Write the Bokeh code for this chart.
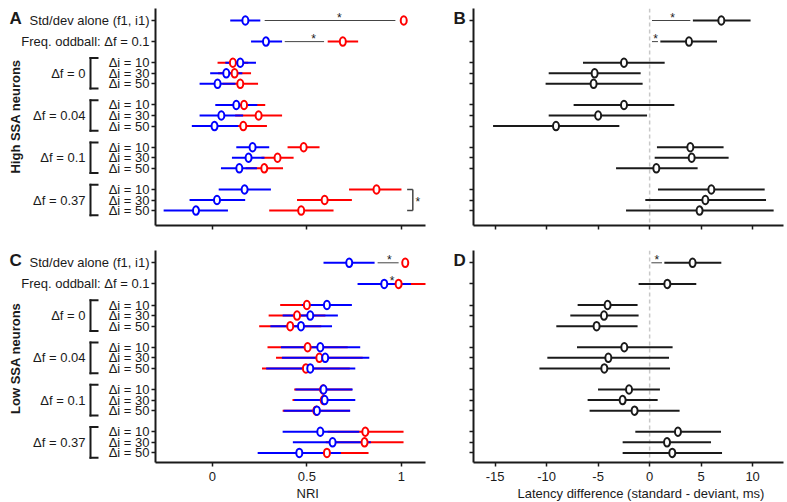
import math
from bokeh.plotting import figure
from bokeh.models import Range1d, FixedTicker, Span, Title, NumeralTickFormatter
from bokeh.layouts import column, row
from bokeh.core.properties import value
from bokeh.embed import file_html
from bokeh.resources import INLINE

# ------------------------------------------------------------------ data
top_labels = ["Std/dev alone (f1, i1)", "Freq. oddball: \u0394f = 0.1"]
group_labels = ["\u0394f = 0", "\u0394f = 0.04", "\u0394f = 0.1", "\u0394f = 0.37"]
di_labels = ["\u0394i = 10", "\u0394i = 30", "\u0394i = 50"]
panel_titles = ["High SSA neurons", "Low  SSA neurons"]
panel_letters = ["A", "B", "C", "D"]
nri_ticks = [0, 0.5, 1]
lat_ticks = [-15, -10, -5, 0, 5, 10]
nri_title = "NRI"
lat_title = "Latency difference (standard - deviant, ms)"

# Panel A: high SSA, NRI (blue = standard, red = deviant)
A_blue = [0.175, 0.284, 0.148, 0.074, 0.028, 0.127, 0.048, 0.012, 0.213, 0.192, 0.143, 0.171, 0.025, -0.086]
A_blue_lo = [0.095, 0.205, 0.069, -0.011, -0.067, 0.016, -0.067, -0.108, 0.127, 0.104, 0.046, 0.034, -0.120, -0.257]
A_blue_hi = [0.254, 0.369, 0.231, 0.159, 0.123, 0.238, 0.163, 0.137, 0.301, 0.276, 0.236, 0.310, 0.174, 0.083]
A_red = [1.012, 0.690, 0.109, 0.118, 0.148, 0.168, 0.245, 0.164, 0.483, 0.345, 0.275, 0.868, 0.594, 0.470]
A_red_lo = [1.012, 0.610, 0.028, 0.031, 0.054, 0.051, 0.121, 0.039, 0.398, 0.260, 0.176, 0.723, 0.448, 0.301]
A_red_hi = [1.012, 0.771, 0.190, 0.205, 0.242, 0.280, 0.369, 0.289, 0.567, 0.430, 0.374, 1.000, 0.738, 0.641]

# Panel C: low SSA, NRI
C_blue = [0.724, 0.909, 0.606, 0.518, 0.469, 0.571, 0.597, 0.518, 0.588, 0.594, 0.553, 0.571, 0.636, 0.460]
C_blue_lo = [0.588, 0.768, 0.474, 0.372, 0.307, 0.363, 0.368, 0.285, 0.439, 0.433, 0.377, 0.372, 0.426, 0.240]
C_blue_hi = [0.858, 1.050, 0.738, 0.664, 0.633, 0.782, 0.830, 0.756, 0.742, 0.756, 0.729, 0.777, 0.838, 0.680]
C_red = [1.020, 0.985, 0.500, 0.448, 0.412, 0.504, 0.566, 0.495, 0.586, 0.589, 0.550, 0.809, 0.805, 0.606]
C_red_lo = [1.020, 0.880, 0.359, 0.298, 0.248, 0.292, 0.337, 0.263, 0.433, 0.424, 0.372, 0.610, 0.600, 0.386]
C_red_hi = [1.020, 1.130, 0.641, 0.598, 0.576, 0.716, 0.795, 0.727, 0.739, 0.754, 0.728, 1.011, 1.011, 0.826]

# Panel B: high SSA, latency difference (ms)
B_mean = [6.96, 3.82, -2.49, -5.34, -5.44, -2.49, -5.0, -9.09, 3.95, 4.08, 0.65, 5.99, 5.41, 4.85]
B_lo = [4.2, 1.04, -6.47, -9.8, -10.1, -7.38, -9.8, -15.2, 0.71, 0.49, -3.26, 0.81, -0.42, -2.29]
B_hi = [9.8, 6.54, 1.46, -0.87, -0.68, 2.4, -0.25, -2.94, 7.18, 7.67, 4.66, 11.17, 11.3, 12.04]

# Panel D: low SSA, latency difference (ms)
D_mean = [4.17, 1.72, -4.08, -4.43, -5.15, -2.46, -4.01, -4.4, -2.0, -2.62, -1.46, 2.75, 1.69, 2.2]
D_lo = [1.43, -1.07, -6.99, -7.7, -9.06, -7.05, -9.93, -10.7, -5.01, -6.02, -5.83, -1.39, -2.62, -2.62]
D_hi = [6.96, 4.53, -1.17, -1.07, -1.17, 2.23, 1.88, 1.98, 1.0, 0.78, 2.91, 6.93, 5.96, 7.03]

# significance marks: (row index, line start, line end, star x)
A_sig = [(0, 0.277, 0.968, 0.672), (1, 0.383, 0.591, 0.536)]
C_sig = [(0, 0.874, 0.985, 0.936), (1, None, None, 0.950)]
B_sig = [(0, 0.23, 3.95, 2.24), (1, 0.23, 0.81, 0.58)]
D_sig = [(0, 0.17, 1.2, 0.71)]
A_group_sig = (3, 1.03, 1.06, 1.086)   # group index, bracket tick x, bracket x, star x

# ------------------------------------------------------------------ layout helpers
FONT = "Liberation Sans"
INK = "#1a1a1a"
BLUE = "#0000ff"
RED = "#ff0000"

rows = [0, 2]
row_labels = list(top_labels)
group_rows = []
for g in range(len(group_labels)):
    rr = [4 + 4 * g + k for k in range(len(di_labels))]
    group_rows.append(rr)
    rows += rr
    row_labels += di_labels

ROW_PX = 10.56          # pixels per row step
NRI_PX = 189.2          # pixels per NRI unit
LAT_PX = 10.3           # pixels per ms
NRI_R = (-0.30, -0.30 + 270 / NRI_PX)
LAT_R = (-17.1, -17.1 + 310 / LAT_PX)

TOP_H, BOT_H = 240, 262
ROW0 = [20.0, 262.3 - TOP_H]     # first row position inside each band (px from band top)
FRAME_TOP = [8, 250 - TOP_H]
FRAME_BOT = [225, 462 - TOP_H]

W_LAB, W_NRI, W_GAP = 150, 298, 18
W_LAT = 787 - W_LAB - W_NRI - W_GAP


def band_yrange(band):
    top = (FRAME_TOP[band] - ROW0[band]) / ROW_PX
    return (top + (FRAME_BOT[band] - FRAME_TOP[band]) / ROW_PX, top)


def base_fig(band, w, xr, bl, br, axes=True):
    h = TOP_H if band == 0 else BOT_H
    kw = dict(width=w, height=h, x_range=Range1d(*xr), y_range=Range1d(*band_yrange(band)),
              output_backend="svg", toolbar_location=None,
              min_border_left=bl, min_border_right=br,
              min_border_top=FRAME_TOP[band], min_border_bottom=h - FRAME_BOT[band])
    if not axes:
        kw.update(x_axis_type=None, y_axis_type=None)
    p = figure(**kw)
    p.outline_line_color = None
    p.grid.visible = False
    return p


def make_panel(band, xr, w, bl, br, xticks, show_x):
    p = base_fig(band, w, xr, bl, br)
    for ax in (p.xaxis[0], p.yaxis[0]):
        ax.axis_line_width = 2
        ax.axis_line_color = INK
        ax.major_tick_line_width = 1.5
        ax.major_tick_line_color = INK
        ax.major_tick_in = 0
        ax.major_tick_out = 4
        ax.minor_tick_line_color = None
        ax.major_label_text_font = FONT
        ax.major_label_text_font_size = "13px"
        ax.major_label_text_color = INK
    p.yaxis.ticker = FixedTicker(ticks=rows)
    p.yaxis.major_label_overrides = {r: "" for r in rows}
    p.yaxis.major_label_standoff = 0
    p.xaxis.ticker = FixedTicker(ticks=xticks)
    if show_x:
        p.xaxis.formatter = NumeralTickFormatter(format="0.[0]")
        p.xaxis.major_label_standoff = 5
    else:
        p.xaxis.major_label_overrides = {t: "" for t in xticks}
        p.xaxis.major_label_standoff = 0
    return p


def star(p, xs, ys):
    p.text(x=xs, y=ys, text=["*"] * len(xs), text_font=value(FONT),
           text_font_size="12px", text_align="center", text_baseline="middle",
           text_color=INK)


def add_sig(p, sig):
    for (ri, x0, x1, sx) in sig:
        y = rows[ri]
        if x0 is not None:
            p.segment(x0=[x0], y0=[y], x1=[x1], y1=[y], line_color="#444444", line_width=1)
        star(p, [sx], [y - 0.28])


def marks(p, m, color):
    p.ellipse(x=m, y=rows, width=6, height=8.5, width_units="screen", height_units="screen",
              fill_color="white", line_color=color, line_width=2)


def nri_panel(p, b, blo, bhi, r, rlo, rhi):
    p.segment(x0=rlo, y0=rows, x1=rhi, y1=rows, line_color=RED, line_width=2)
    p.segment(x0=blo, y0=rows, x1=bhi, y1=rows, line_color=BLUE, line_width=2)
    marks(p, r, RED)
    marks(p, b, BLUE)


def lat_panel(p, m, lo, hi):
    p.add_layout(Span(location=0, dimension="height", line_color="#c8c8c8",
                      line_dash="4 3", line_width=1.5, level="underlay"))
    p.segment(x0=lo, y0=rows, x1=hi, y1=rows, line_color=INK, line_width=2)
    marks(p, m, INK)


def letter_text(p, band, x, letter):
    p.text(x=[x], y=[band_yrange(band)[1]], text=[letter],
           text_font=value(FONT), text_font_size="17px", text_font_style="bold",
           text_align="left", text_baseline="top", text_color=INK)


def label_strip(band, title, title_px, letter):
    """Left-hand strip (pixel x units) holding row labels, group labels, brackets."""
    p = base_fig(band, W_LAB, (0, W_LAB), 0, 0, axes=False)
    n = len(rows)
    p.text(x=[W_LAB - 1] * n, y=rows, text=row_labels, text_font=value(FONT),
           text_font_size="13px", text_align="right", text_baseline="middle",
           text_color=INK)
    mids = [rr[1] for rr in group_rows]
    p.text(x=[85] * len(mids), y=mids, text=group_labels, text_font=value(FONT),
           text_font_size="13px", text_align="right", text_baseline="middle",
           text_color=INK)
    xs0, ys0, xs1, ys1 = [], [], [], []
    for rr in group_rows:
        ya, yb = rr[0] - 0.45, rr[-1] + 0.45
        xs0 += [90, 90, 90]
        ys0 += [ya, ya, yb]
        xs1 += [90, 97, 97]
        ys1 += [yb, ya, yb]
    p.segment(x0=xs0, y0=ys0, x1=xs1, y1=ys1, line_color=INK, line_width=2, line_cap="square")
    p.text(x=[15], y=[(title_px - ROW0[band]) / ROW_PX], text=[title], angle=math.pi / 2,
           text_font=value(FONT), text_font_size="13px", text_font_style="bold",
           text_align="center", text_baseline="middle", text_color=INK)
    letter_text(p, band, 9, letter)
    return p


def letter_strip(band, letter):
    p = base_fig(band, W_GAP, (0, W_GAP), 0, 0, axes=False)
    letter_text(p, band, 5, letter)
    return p


def bottom_title(p, text, offset):
    p.add_layout(Title(text=text, align="left", offset=offset, standoff=0,
                       text_font=FONT, text_font_size="13px", text_font_style="normal",
                       text_color=INK), "below")


# ------------------------------------------------------------------ panels
LA = label_strip(0, panel_titles[0], 116, panel_letters[0])
pA = make_panel(0, NRI_R, W_NRI, 5, 23, nri_ticks, False)
nri_panel(pA, A_blue, A_blue_lo, A_blue_hi, A_red, A_red_lo, A_red_hi)
add_sig(pA, A_sig)
gi, bx_t, bx, sx = A_group_sig
g0, g1 = group_rows[gi][0], group_rows[gi][-1]
pA.segment(x0=[bx, bx_t, bx_t], y0=[g0, g0, g1], x1=[bx, bx, bx], y1=[g1, g0, g1],
           line_color="#444444", line_width=1.5)
star(pA, [sx], [group_rows[gi][1] + 0.2])

LB = letter_strip(0, panel_letters[1])
pB = make_panel(0, LAT_R, W_LAT, 7, 4, lat_ticks, False)
lat_panel(pB, B_mean, B_lo, B_hi)
add_sig(pB, B_sig)

LC = label_strip(1, panel_titles[1], 356 - TOP_H, panel_letters[2])
pC = make_panel(1, NRI_R, W_NRI, 5, 23, nri_ticks, True)
nri_panel(pC, C_blue, C_blue_lo, C_blue_hi, C_red, C_red_lo, C_red_hi)
add_sig(pC, C_sig)
bottom_title(pC, nri_title, 141)

LD = letter_strip(1, panel_letters[3])
pD = make_panel(1, LAT_R, W_LAT, 7, 4, lat_ticks, True)
lat_panel(pD, D_mean, D_lo, D_hi)
add_sig(pD, D_sig)
bottom_title(pD, lat_title, 44)

layout = column(row(LA, pA, LB, pB, spacing=0), row(LC, pC, LD, pD, spacing=0), spacing=0)
open("out.html", "w").write(file_html(layout, INLINE))
